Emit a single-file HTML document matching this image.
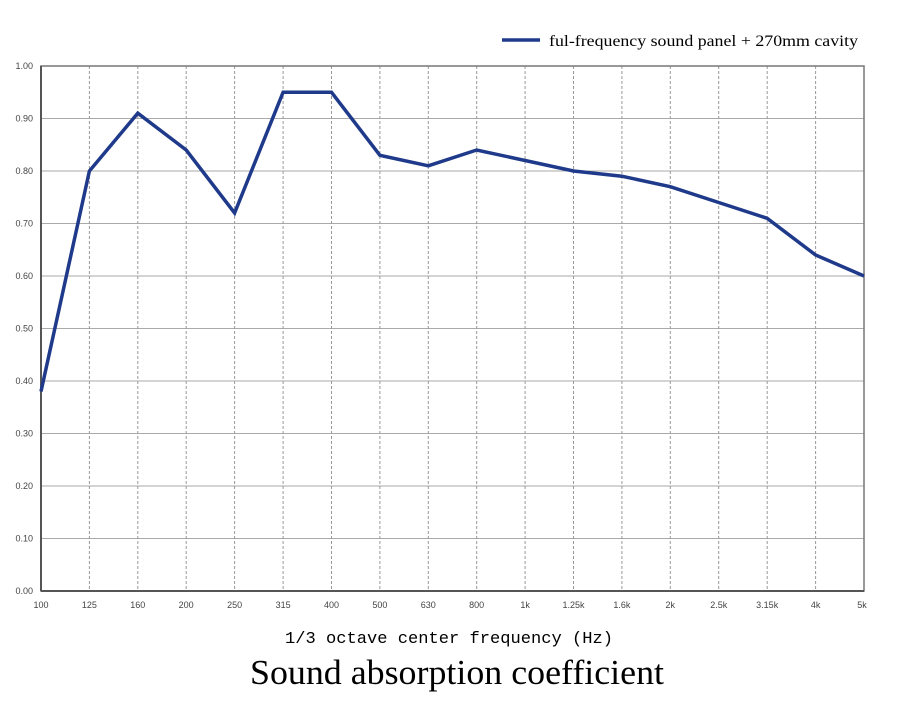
<!DOCTYPE html>
<html><head><meta charset="utf-8"><style>body{margin:0;background:#fff}svg{display:block}</style></head><body>
<svg width="898" height="703" xmlns="http://www.w3.org/2000/svg" font-family="Liberation Sans, sans-serif">
<g stroke="#aaa" stroke-width="1">
<line x1="41" x2="864" y1="118.5" y2="118.5"/><line x1="41" x2="864" y1="171" y2="171"/><line x1="41" x2="864" y1="223.5" y2="223.5"/><line x1="41" x2="864" y1="276" y2="276"/><line x1="41" x2="864" y1="328.5" y2="328.5"/><line x1="41" x2="864" y1="381" y2="381"/><line x1="41" x2="864" y1="433.5" y2="433.5"/><line x1="41" x2="864" y1="486" y2="486"/><line x1="41" x2="864" y1="538.5" y2="538.5"/>
</g>
<g stroke="#999" stroke-width="1" stroke-dasharray="3,2">
<line x1="89.4" x2="89.4" y1="66" y2="591"/><line x1="137.8" x2="137.8" y1="66" y2="591"/><line x1="186.2" x2="186.2" y1="66" y2="591"/><line x1="234.6" x2="234.6" y1="66" y2="591"/><line x1="283.1" x2="283.1" y1="66" y2="591"/><line x1="331.5" x2="331.5" y1="66" y2="591"/><line x1="379.9" x2="379.9" y1="66" y2="591"/><line x1="428.3" x2="428.3" y1="66" y2="591"/><line x1="476.7" x2="476.7" y1="66" y2="591"/><line x1="525.1" x2="525.1" y1="66" y2="591"/><line x1="573.5" x2="573.5" y1="66" y2="591"/><line x1="621.9" x2="621.9" y1="66" y2="591"/><line x1="670.3" x2="670.3" y1="66" y2="591"/><line x1="718.7" x2="718.7" y1="66" y2="591"/><line x1="767.2" x2="767.2" y1="66" y2="591"/><line x1="815.6" x2="815.6" y1="66" y2="591"/>
</g>
<rect x="41" y="66" width="823" height="525" fill="none" stroke="#777" stroke-width="1.5"/>
<line x1="41" x2="864" y1="591" y2="591" stroke="#555" stroke-width="2"/>
<line x1="41" x2="41" y1="66" y2="591" stroke="#555" stroke-width="2"/>
<g font-size="9" fill="#444" text-anchor="end">
<text x="33" y="69">1.00</text><text x="33" y="121.5">0.90</text><text x="33" y="174">0.80</text><text x="33" y="226.5">0.70</text><text x="33" y="279">0.60</text><text x="33" y="331.5">0.50</text><text x="33" y="384">0.40</text><text x="33" y="436.5">0.30</text><text x="33" y="489">0.20</text><text x="33" y="541.5">0.10</text><text x="33" y="594">0.00</text>
</g>
<g font-size="9" fill="#444" text-anchor="middle">
<text x="41" y="608">100</text><text x="89.4" y="608">125</text><text x="137.8" y="608">160</text><text x="186.2" y="608">200</text><text x="234.6" y="608">250</text><text x="283.1" y="608">315</text><text x="331.5" y="608">400</text><text x="379.9" y="608">500</text><text x="428.3" y="608">630</text><text x="476.7" y="608">800</text><text x="525.1" y="608">1k</text><text x="573.5" y="608">1.25k</text><text x="621.9" y="608">1.6k</text><text x="670.3" y="608">2k</text><text x="718.7" y="608">2.5k</text><text x="767.2" y="608">3.15k</text><text x="815.6" y="608">4k</text><text x="862" y="608">5k</text>
</g>
<polyline fill="none" stroke="#1f3a8a" stroke-width="3.5" stroke-linejoin="miter" points="41,391.5 89.4,171 137.8,113.2 186.2,150 234.6,213 283.1,92.25 331.5,92.25 379.9,155.3 428.3,165.8 476.7,150 525.1,160.5 573.5,171 621.9,176.2 670.3,186.7 718.7,202.5 767.2,218.3 815.6,255 864,276"/>
<line x1="502" x2="540" y1="40" y2="40" stroke="#1f3a8a" stroke-width="3.5"/>
<text x="549" y="46" font-family="Liberation Serif, serif" font-size="16" fill="#000" textLength="309" lengthAdjust="spacingAndGlyphs">ful-frequency sound panel + 270mm cavity</text>
<text x="285" y="643" font-family="Liberation Mono, monospace" font-size="17" fill="#000" textLength="328" lengthAdjust="spacingAndGlyphs">1/3 octave center frequency (Hz)</text>
<text x="250" y="684" font-family="Liberation Serif, serif" font-size="35" fill="#000" textLength="414" lengthAdjust="spacingAndGlyphs">Sound absorption coefficient</text>
</svg>
</body></html>
